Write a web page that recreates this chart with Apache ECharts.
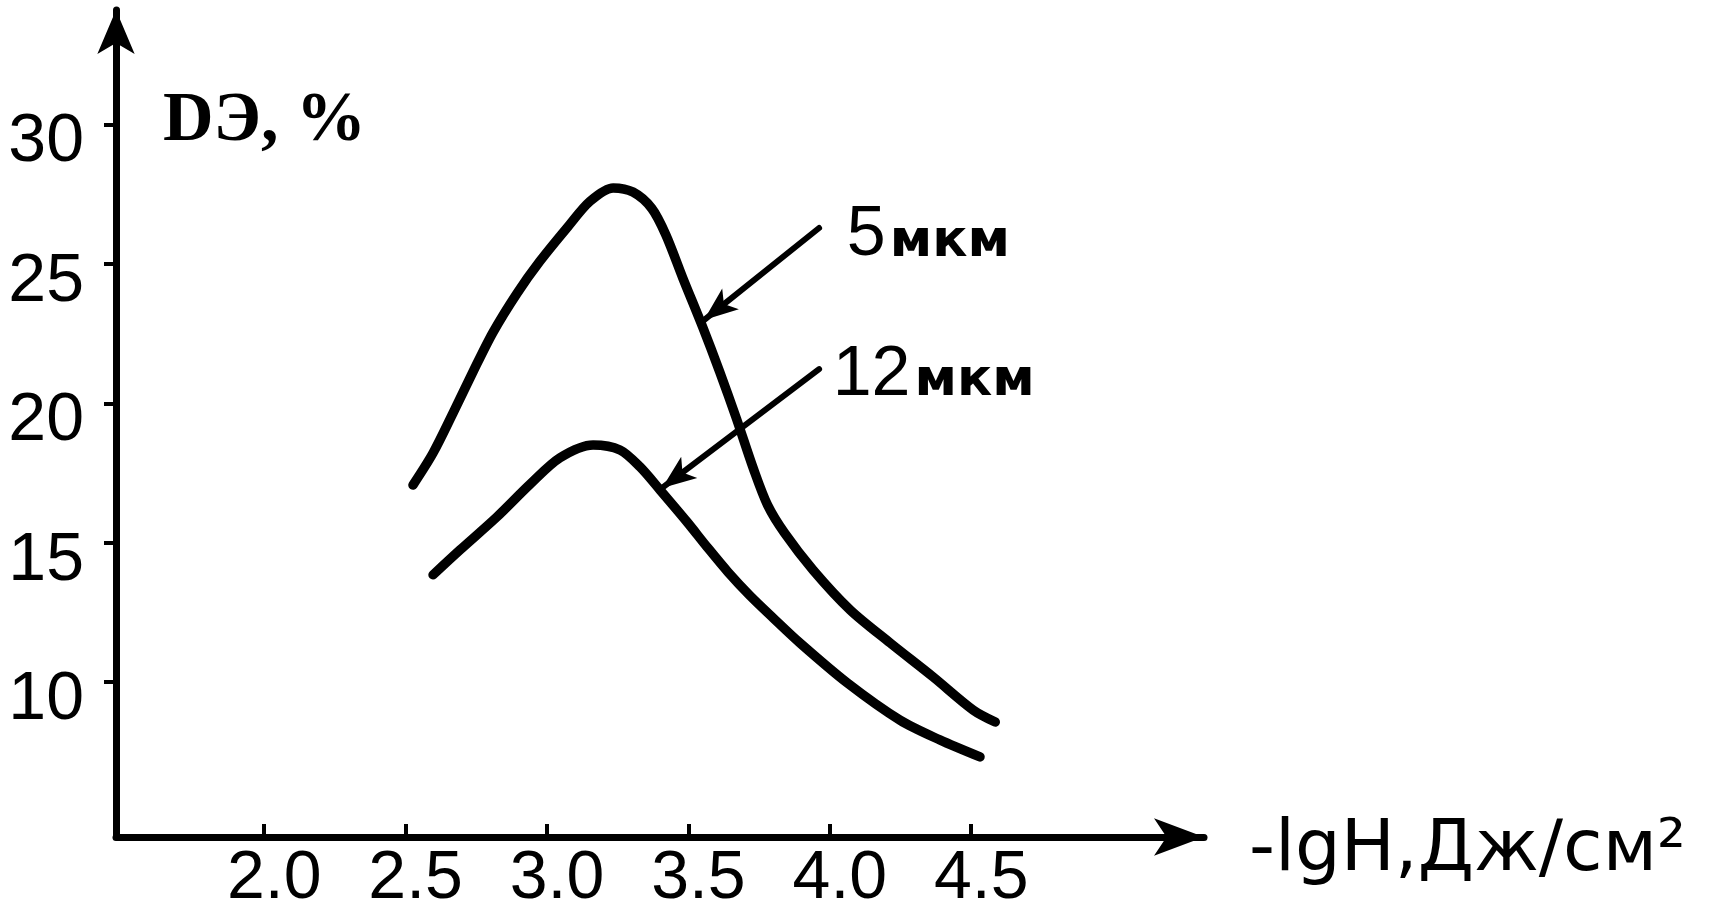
<!DOCTYPE html>
<html><head><meta charset="utf-8">
<script src="https://cdn.jsdelivr.net/npm/echarts@6/dist/echarts.min.js"></script>
<style>html,body{margin:0;padding:0;background:#fff}#c{width:1716px;height:920px}</style>
</head><body><div id="c"></div>
<script>
// ---- data ----
const xTicks = [2.0, 2.5, 3.0, 3.5, 4.0, 4.5];
const yTicks = [10, 15, 20, 25, 30];
const seriesNames = ['5мкм', '12мкм'];
const x5  = [2.526, 2.597, 2.668, 2.739, 2.809, 2.894, 2.975, 3.071, 3.152, 3.234, 3.304, 3.370, 3.420, 3.480, 3.550, 3.610, 3.670, 3.730, 3.780, 3.840, 3.941, 4.072, 4.213, 4.365, 4.507, 4.585];
const y5  = [17.07, 18.22, 19.66, 21.15, 22.55, 23.95, 25.10, 26.30, 27.25, 27.73, 27.58, 27.00, 26.05, 24.50, 22.75, 21.15, 19.45, 17.65, 16.35, 15.35, 14.02, 12.59, 11.41, 10.19, 9.00, 8.57];
const x12 = [2.597, 2.692, 2.823, 2.940, 3.046, 3.163, 3.258, 3.329, 3.400, 3.495, 3.566, 3.640, 3.718, 3.800, 3.894, 4.061, 4.248, 4.389, 4.531];
const y12 = [13.85, 14.74, 15.93, 17.10, 18.05, 18.51, 18.33, 17.72, 16.89, 15.75, 14.85, 13.95, 13.10, 12.30, 11.41, 9.98, 8.64, 7.93, 7.32];
// annotation arrows (start -> tip) and label anchors, in data units
const arrow5  = [[3.962, 26.29], [3.555, 22.99]];
const arrow12 = [[3.962, 21.23], [3.407, 16.97]];
const label5  = [4.06, 26.0];
const label12 = [4.01, 21.0];

const zip = (xs, ys) => xs.map((x, i) => [x, ys[i]]);
const numFont = '"Liberation Sans",Arial,sans-serif';

function curveSeries(name, xs, ys, arrow, lab, big) {
  return {
    name, type: 'line', data: zip(xs, ys), smooth: 0.3, showSymbol: false, symbol: 'none',
    lineStyle: { color: '#000', width: 9.5, cap: 'round', join: 'round' },
    silent: true,
    markLine: {
      silent: true, symbol: ['none', 'arrow'], symbolSize: [20, 34],
      lineStyle: { color: '#000', width: 6, type: 'solid', cap: 'round' }, label: { show: false },
      data: [[{ coord: arrow[0] }, { coord: arrow[1] }]]
    },
    markPoint: {
      silent: true, symbol: 'circle', symbolSize: 0, itemStyle: { color: 'transparent' },
      data: [{ coord: lab, label: { show: true, position: 'right', distance: 0,
        formatter: '{a|' + big + '}{b|мкм}',
        rich: {
          a: { fontSize: 70, fontFamily: numFont, color: '#000', verticalAlign: 'bottom' },
          b: { fontSize: 52, fontWeight: 'bold', fontFamily: '"DejaVu Sans",sans-serif', color: '#000', verticalAlign: 'bottom', padding: [0, 0, 3, 4] }
        } } }]
    }
  };
}

const chart = echarts.init(document.getElementById('c'), null, { renderer: 'canvas' });
chart.setOption({
  animation: false,
  backgroundColor: '#fff',
  grid: { left: 116, right: 512, top: 10, bottom: 83, containLabel: false, outerBoundsMode: 'none' },
  xAxis: {
    type: 'value', min: 1.476, max: 5.323,
    name: '{n|-lgH,Дж/см²}', nameLocation: 'end', nameGap: 45,
    nameTextStyle: { color: '#000', verticalAlign: 'middle', align: 'left',
      rich: { n: { fontSize: 72, fontFamily: '"DejaVu Sans",sans-serif', color: '#000', padding: [28, 0, 0, 0] } } },
    axisLine: { show: true, symbol: ['none', 'arrow'], symbolSize: [28, 50], lineStyle: { color: '#000', width: 7 } },
    axisTick: { show: true, inside: true, length: 13, customValues: xTicks, lineStyle: { color: '#000', width: 4 } },
    axisLabel: { customValues: xTicks, formatter: v => '{t|' + v.toFixed(1) + '}', color: '#000', margin: 8,
      rich: { t: { fontSize: 68, fontFamily: numFont, color: '#000', padding: [0, 0, 0, 20] } } },
    splitLine: { show: false }
  },
  yAxis: {
    type: 'value', min: 4.448, max: 34.11,
    axisLine: { show: true, symbol: ['none', 'arrow'], symbolSize: [28, 44], lineStyle: { color: '#000', width: 7 } },
    axisTick: { show: true, inside: false, length: 12, customValues: yTicks, lineStyle: { color: '#000', width: 4 } },
    axisLabel: { customValues: yTicks, formatter: v => '{t|' + v + '}', color: '#000', margin: 32, verticalAlign: 'middle',
      rich: { t: { fontSize: 68, fontFamily: numFont, color: '#000', padding: [36, 0, 0, 0] } } },
    splitLine: { show: false }
  },
  graphic: [{
    type: 'text', x: 163, y: 122, silent: true,
    style: { text: 'DЭ, %', fill: '#000', font: 'bold 70px "Liberation Serif","DejaVu Serif",serif', align: 'left', verticalAlign: 'middle' }
  }],
  series: [
    curveSeries(seriesNames[0], x5, y5, arrow5, label5, '5'),
    curveSeries(seriesNames[1], x12, y12, arrow12, label12, '12')
  ]
});
</script></body></html>
